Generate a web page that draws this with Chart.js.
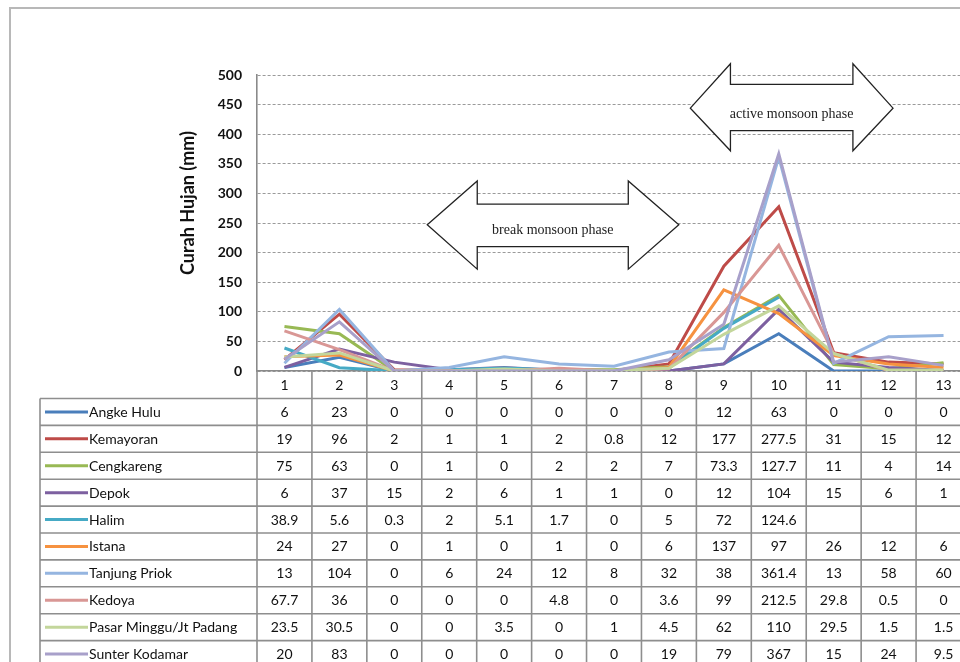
<!DOCTYPE html>
<html>
<head>
<meta charset="utf-8">
<title>Curah Hujan</title>
<script src="https://cdn.jsdelivr.net/npm/chart.js@4.4.1/dist/chart.umd.min.js"></script>
<style>
  html, body { margin: 0; padding: 0; background: #fff; overflow: hidden; }
  #wrap { width: 971px; height: 662px; }
</style>
</head>
<body>
<div id="wrap"><canvas id="c" width="971" height="662"></canvas></div>
<script>
// Day index of the observation period
const categories = ['1', '2', '3', '4', '5', '6', '7', '8', '9', '10', '11', '12', '13'];

// Rain gauge stations
const stations = ['Angke Hulu', 'Kemayoran', 'Cengkareng', 'Depok', 'Halim', 'Istana',
  'Tanjung Priok', 'Kedoya', 'Pasar Minggu/Jt Padang', 'Sunter Kodamar'];

// Daily rainfall (mm) per station; null = no record
const angkeHulu     = [6, 23, 0, 0, 0, 0, 0, 0, 12, 63, 0, 0, 0];
const kemayoran     = [19, 96, 2, 1, 1, 2, 0.8, 12, 177, 277.5, 31, 15, 12];
const cengkareng    = [75, 63, 0, 1, 0, 2, 2, 7, 73.3, 127.7, 11, 4, 14];
const depok         = [6, 37, 15, 2, 6, 1, 1, 0, 12, 104, 15, 6, 1];
const halim         = [38.9, 5.6, 0.3, 2, 5.1, 1.7, 0, 5, 72, 124.6, null, null, null];
const istana        = [24, 27, 0, 1, 0, 1, 0, 6, 137, 97, 26, 12, 6];
const tanjungPriok  = [13, 104, 0, 6, 24, 12, 8, 32, 38, 361.4, 13, 58, 60];
const kedoya        = [67.7, 36, 0, 0, 0, 4.8, 0, 3.6, 99, 212.5, 29.8, 0.5, 0];
const pasarMinggu   = [23.5, 30.5, 0, 0, 3.5, 0, 1, 4.5, 62, 110, 29.5, 1.5, 1.5];
const sunterKodamar = [20, 83, 0, 0, 0, 0, 0, 19, 79, 367, 15, 24, 9.5];

const seriesValues = [angkeHulu, kemayoran, cengkareng, depok, halim, istana,
  tanjungPriok, kedoya, pasarMinggu, sunterKodamar];

// Y axis range
const yMin = 0, yMax = 500, yStep = 50;

const yTitle = 'Curah Hujan (mm)';
const phaseLabels = ['break monsoon phase', 'active monsoon phase'];

// Series colours
const colors = ['#4A7EBB', '#BE4B48', '#98B954', '#7D60A0', '#46AAC5', '#F69240',
  '#95B5E0', '#D99795', '#C3D69B', '#A8A0CA'];

const FONT = 'Lato, "Open Sans", "DejaVu Sans", sans-serif';
const SERIF = '"Liberation Serif", "DejaVu Serif", serif';
const TABLE_LINE = '#8e8e8e';
const TEXT = '#111';

// Outer frame of the figure
const framePlugin = {
  id: 'frame',
  beforeDraw(chart) {
    const ctx = chart.ctx;
    ctx.save();
    ctx.strokeStyle = '#b8b8b8';
    ctx.lineWidth = 2;
    ctx.beginPath();
    ctx.moveTo(10, chart.height);
    ctx.lineTo(10, 8);
    ctx.lineTo(chart.width, 8);
    ctx.stroke();
    ctx.restore();
  }
};

// Rotated y axis title
const yTitlePlugin = {
  id: 'yTitle',
  afterDraw(chart) {
    const ctx = chart.ctx;
    const a = chart.chartArea;
    ctx.save();
    ctx.translate(a.left - 69, a.top + 128);
    ctx.rotate(-Math.PI / 2);
    ctx.font = 'bold 18px ' + FONT;
    ctx.fillStyle = TEXT;
    ctx.textAlign = 'center';
    ctx.textBaseline = 'middle';
    ctx.fillText(yTitle, 0, 0);
    ctx.restore();
  }
};

// Double-headed block arrows marking the monsoon phases (in axis units)
const phaseArrows = [
  { label: phaseLabels[0], tipL: 2.60, headL: 3.51, headR: 6.26, tipR: 7.18,
    mid: 247, headTop: 321, headBot: 172, shaftTop: 282, shaftBot: 210, textY: 238 },
  { label: phaseLabels[1], tipL: 7.39, headL: 8.12, headR: 10.35, tipR: 11.08,
    mid: 444, headTop: 519, headBot: 372, shaftTop: 484, shaftBot: 406, textY: 434 }
];

const arrowPlugin = {
  id: 'phaseArrows',
  afterDatasetsDraw(chart) {
    const ctx = chart.ctx;
    const xs = chart.scales.x, ys = chart.scales.y;
    const X = v => xs.getPixelForValue(v);
    const Y = v => ys.getPixelForValue(v);
    ctx.save();
    phaseArrows.forEach(a => {
      ctx.beginPath();
      ctx.moveTo(X(a.tipL), Y(a.mid));
      ctx.lineTo(X(a.headL), Y(a.headTop));
      ctx.lineTo(X(a.headL), Y(a.shaftTop));
      ctx.lineTo(X(a.headR), Y(a.shaftTop));
      ctx.lineTo(X(a.headR), Y(a.headTop));
      ctx.lineTo(X(a.tipR), Y(a.mid));
      ctx.lineTo(X(a.headR), Y(a.headBot));
      ctx.lineTo(X(a.headR), Y(a.shaftBot));
      ctx.lineTo(X(a.headL), Y(a.shaftBot));
      ctx.lineTo(X(a.headL), Y(a.headBot));
      ctx.closePath();
      ctx.fillStyle = '#ffffff';
      ctx.fill();
      ctx.strokeStyle = '#222';
      ctx.lineWidth = 1.3;
      ctx.lineJoin = 'miter';
      ctx.stroke();
      ctx.fillStyle = '#222';
      ctx.font = '14px ' + SERIF;
      ctx.textAlign = 'center';
      ctx.textBaseline = 'middle';
      ctx.fillText(a.label, (X(a.headL) + X(a.headR)) / 2, Y(a.textY));
    });
    ctx.restore();
  }
};

// Data table under the plot, aligned with the category columns
const tablePlugin = {
  id: 'dataTable',
  afterDraw(chart) {
    const ctx = chart.ctx;
    const xs = chart.scales.x;
    const area = chart.chartArea;
    const n = categories.length;
    const colW = (area.right - area.left) / n;
    const headTop = area.bottom;
    const rowTop = headTop + 27.5;
    const rowH = 26.9;
    const legLeft = 40;
    const bottom = chart.height;

    ctx.save();
    ctx.strokeStyle = TABLE_LINE;
    ctx.lineWidth = 1.6;

    // column dividers
    for (let i = 0; i <= n; i++) {
      const x = area.left + i * colW;
      ctx.beginPath();
      ctx.moveTo(x, headTop);
      ctx.lineTo(x, bottom);
      ctx.stroke();
    }
    // left edge of legend column
    ctx.beginPath();
    ctx.moveTo(legLeft, rowTop);
    ctx.lineTo(legLeft, bottom);
    ctx.stroke();
    // row lines
    for (let r = 0; r <= stations.length; r++) {
      const y = rowTop + r * rowH;
      ctx.beginPath();
      ctx.moveTo(legLeft, y);
      ctx.lineTo(chart.width, y);
      ctx.stroke();
    }

    // legend keys and values
    ctx.font = '14px ' + FONT;
    ctx.textBaseline = 'middle';
    stations.forEach((name, r) => {
      const cy = rowTop + r * rowH + rowH / 2;
      ctx.strokeStyle = colors[r];
      ctx.lineWidth = 3;
      ctx.beginPath();
      ctx.moveTo(legLeft + 5, cy);
      ctx.lineTo(legLeft + 48, cy);
      ctx.stroke();
      ctx.fillStyle = TEXT;
      ctx.textAlign = 'left';
      ctx.fillText(name, legLeft + 49, cy + 0.5);
      ctx.textAlign = 'center';
      seriesValues[r].forEach((v, i) => {
        if (v === null) return;
        ctx.fillText(String(v), xs.getPixelForValue(i), cy + 0.5);
      });
    });
    ctx.restore();
  }
};

const datasets = stations.map((name, i) => ({
  label: name,
  data: seriesValues[i],
  borderColor: colors[i],
  backgroundColor: colors[i],
  borderWidth: 3,
  pointRadius: 0,
  tension: 0,
  spanGaps: false,
  order: stations.length - i
}));

new Chart(document.getElementById('c'), {
  type: 'line',
  data: { labels: categories, datasets },
  options: {
    responsive: false,
    devicePixelRatio: 1,
    animation: false,
    layout: { padding: { top: 75, left: 0, right: 0, bottom: 0 } },
    plugins: { legend: { display: false }, tooltip: { enabled: false }, title: { display: false } },
    scales: {
      x: {
        type: 'category',
        offset: true,
        grid: { display: false, drawTicks: false },
        border: { display: true, color: '#8a8a8a', width: 1.6 },
        ticks: { color: TEXT, font: { family: FONT, size: 14 }, padding: 6, maxRotation: 0, autoSkip: false },
        afterFit(s) { s.height = 291; }
      },
      y: {
        min: yMin,
        max: yMax,
        grid: { color: '#9a9a9a', lineWidth: 1, drawTicks: false },
        border: { display: true, color: '#8a8a8a', width: 1.6, dash: [3, 2] },
        ticks: { stepSize: yStep, color: TEXT, font: { family: FONT, size: 14, weight: 'bold' }, padding: 15 },
        afterFit(s) { s.width = 257; }
      }
    }
  },
  plugins: [framePlugin, arrowPlugin, tablePlugin, yTitlePlugin]
});
</script>
</body>
</html>
